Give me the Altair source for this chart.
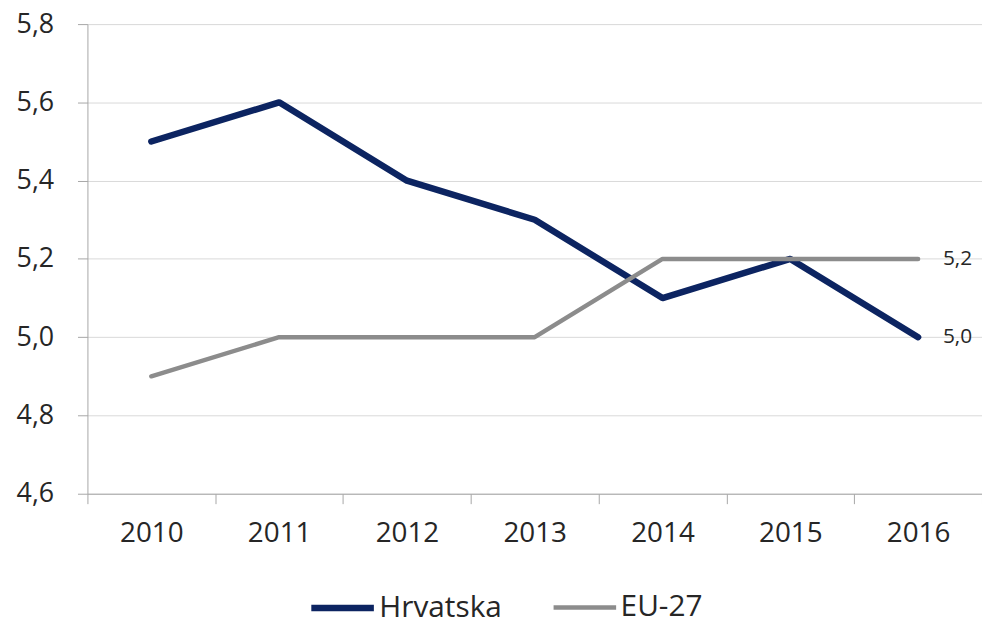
import altair as alt
import pandas as pd

years = ["2010", "2011", "2012", "2013", "2014", "2015", "2016"]
hrvatska = [5.5, 5.6, 5.4, 5.3, 5.1, 5.2, 5.0]
eu27 = [4.9, 5.0, 5.0, 5.0, 5.2, 5.2, 5.2]
series = ["Hrvatska", "EU-27"]
colors = ["#0c2461", "#8c8c8c"]
widths = [6.5, 4.5]
y_ticks = [4.6, 4.8, 5.0, 5.2, 5.4, 5.6, 5.8]

df = pd.DataFrame({
    "year": years * 2,
    "value": hrvatska + eu27,
    "series": [series[0]] * len(years) + [series[1]] * len(years),
})

FONT = "Open Sans"
AX = "#a6a6a6"

x = alt.X(
    "year:N",
    title=None,
    scale=alt.Scale(type="band", paddingInner=0, paddingOuter=0),
    axis=alt.Axis(
        tickBand="extent", domainColor=AX, tickColor=AX, tickSize=10,
        labelFont=FONT, labelFontSize=28, labelColor="#262626",
        labelPadding=16, labelAngle=0, grid=False,
    ),
)
y = alt.Y(
    "value:Q",
    title=None,
    scale=alt.Scale(domain=[4.6, 5.8], nice=False, zero=False),
    axis=alt.Axis(
        values=y_ticks, domainColor=AX, tickColor=AX, tickSize=10,
        gridColor="#d9d9d9", grid=True,
        labelFont=FONT, labelFontSize=27, labelColor="#262626",
        labelPadding=24,
        labelExpr="replace(format(datum.value, '.1f'), '.', ',')",
    ),
)


def make_legend():
    return alt.Legend(
        title=None, orient="none", direction="horizontal",
        legendX=222, legendY=553,
        symbolType="stroke", symbolSize=3970,
        labelFont=FONT, labelFontSize=30, labelColor="#262626",
        labelOffset=2, columnPadding=42, padding=0,
    )


color = alt.Color(
    "series:N",
    scale=alt.Scale(domain=series, range=colors),
    legend=make_legend(),
)
sw = alt.StrokeWidth(
    "series:N",
    scale=alt.Scale(domain=series, range=widths),
    legend=make_legend(),
)

base = alt.Chart(df)
line_h = base.transform_filter(alt.datum.series == series[0]).mark_line(
    strokeCap="round", strokeJoin="round"
).encode(x=x, y=y, color=color, strokeWidth=sw)
line_e = base.transform_filter(alt.datum.series == series[1]).mark_line(
    strokeCap="round", strokeJoin="round"
).encode(x=x, y=y, color=color, strokeWidth=sw)

labels = base.transform_filter(alt.datum.year == years[-1]).transform_calculate(
    lab="replace(format(datum.value, '.1f'), '.', ',')"
).mark_text(
    align="left", baseline="middle", dx=25, font=FONT, fontSize=21, color="#262626"
).encode(x=x, y=y, text="lab:N")

chart = alt.layer(line_h, line_e, labels).properties(
    width=901, height=473,
    autosize=alt.AutoSizeParams(type="none"),
    padding={"left": 80, "top": 14, "right": 0, "bottom": 130},
    background="white",
).configure_view(stroke=None)

chart.save("out.html", embed_options={"renderer": "svg", "actions": False})
